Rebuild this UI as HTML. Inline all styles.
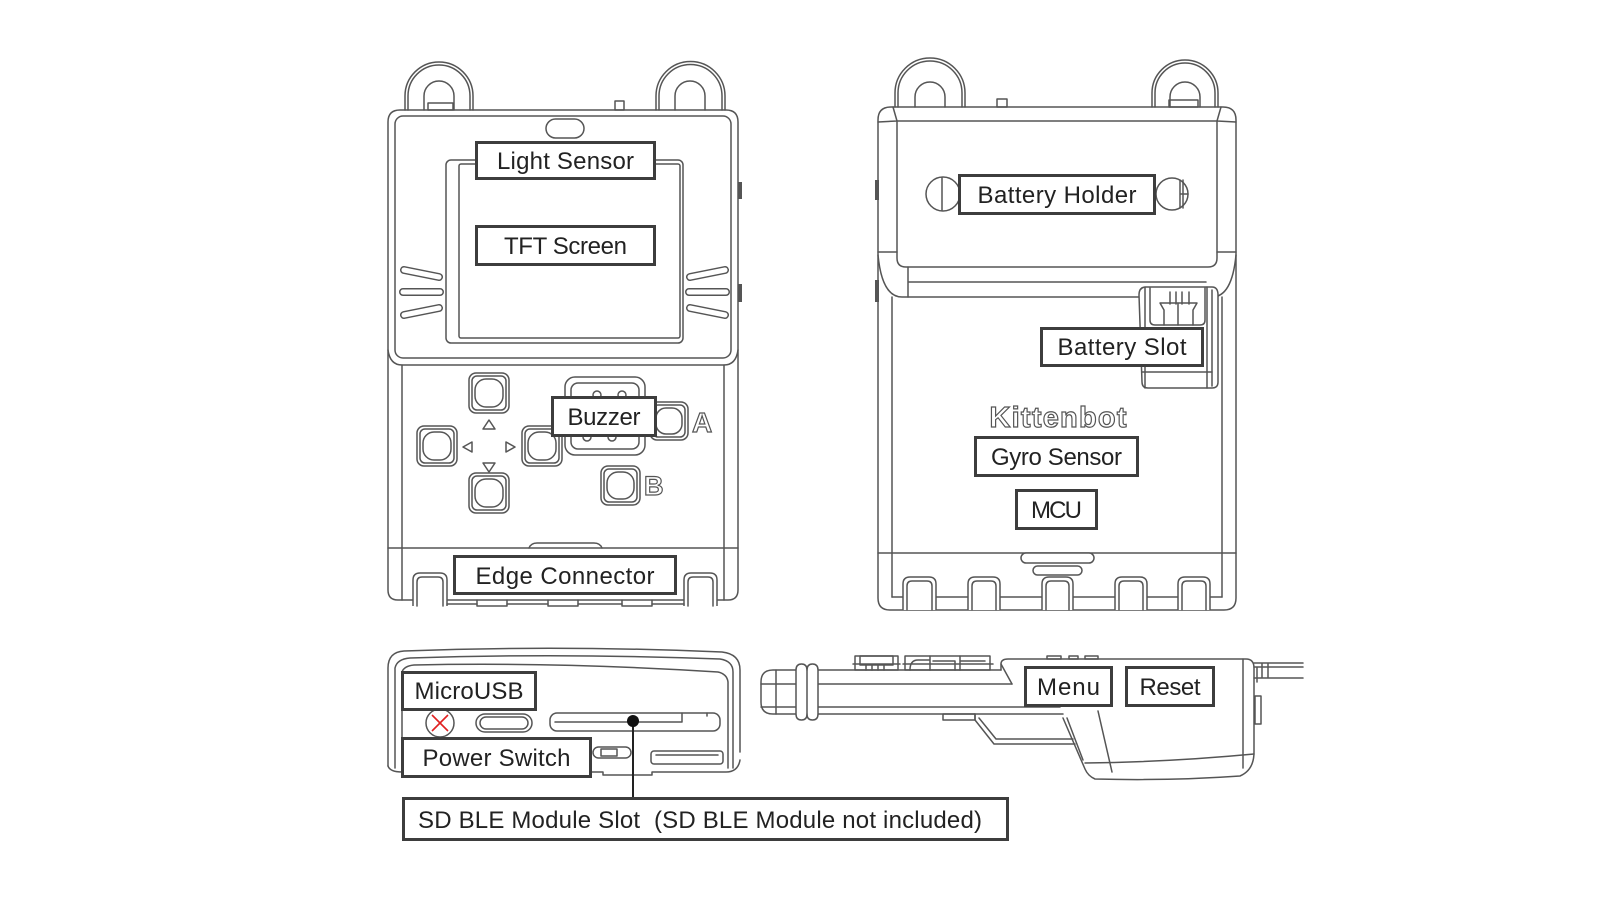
<!DOCTYPE html>
<html><head><meta charset="utf-8"><style>
html,body{margin:0;padding:0;background:#fff;}
svg{display:block}
.l{fill:none;stroke:#555;stroke-width:1.5;stroke-linejoin:round;stroke-linecap:round}
.lw{fill:#fff;stroke:#555;stroke-width:1.5;stroke-linejoin:round}
.lb{fill:#fff;stroke:#3d3d3d;stroke-width:3}
.t{font-family:"Liberation Sans",sans-serif;font-size:24px;fill:#222;text-anchor:middle}
.o{font-family:"Liberation Sans",sans-serif;font-weight:bold;fill:#fff;stroke:#555;stroke-width:1.2}
</style></head><body>
<svg width="1600" height="900" viewBox="0 0 1600 900">
<rect width="1600" height="900" fill="#fff"/>

<!-- ================= FRONT DEVICE ================= -->
<path class="l" stroke-width="2.2" d="M405,110 V96 A34,34 0 0 1 473,96 V110"/>
<path class="l" d="M408,110 V96 A31,31 0 0 1 470,96 V110"/>
<path class="l" d="M424,110 V96 A15,15 0 0 1 454,96 V110"/>
<rect class="l" x="428" y="103" width="25" height="7"/>
<path class="l" stroke-width="2.2" d="M656,110 V96 A34.5,34.5 0 0 1 725,96 V110"/>
<path class="l" d="M659,110 V96 A31.5,31.5 0 0 1 722,96 V110"/>
<path class="l" d="M675,110 V96 A15,15 0 0 1 705,96 V110"/>
<rect class="l" x="615" y="101" width="9" height="9"/>

<path class="l" d="M388,122 Q388,110 400,110 H726 Q738,110 738,122 V590 Q738,600 728,600 H398 Q388,600 388,590 Z"/>
<rect class="l" x="395" y="116" width="336" height="242" rx="8"/>
<path class="l" d="M388,350 Q390,365 402,365 H724 Q736,365 738,350"/>
<path class="l" d="M402,365 V600 M724,365 V600"/>
<path class="l" d="M388,548 H738"/>
<path class="l" d="M529,548 Q531,543 537,543 H594 Q600,543 602,548"/>
<rect x="738" y="182" width="4" height="17" fill="#555"/>
<rect x="738" y="284" width="4" height="18" fill="#555"/>
<path class="lw" d="M413,606 V580 Q413,573 420,573 H440 Q447,573 447,580 V606"/>
<path class="l" d="M417,606 V582 Q417,577 422,577 H438 Q443,577 443,582 V606"/>
<path class="lw" d="M684,606 V580 Q684,573 691,573 H710 Q717,573 717,580 V606"/>
<path class="l" d="M688,606 V582 Q688,577 693,577 H708 Q713,577 713,582 V606"/>
<path class="l" d="M477,600 V606 H507 V600 M548,600 V606 H578 V600 M622,600 V606 H652 V600"/>
<path class="l" d="M447,604 H477 M507,604 H548 M578,604 H622 M652,604 H684"/>

<rect class="l" x="546" y="119" width="38" height="19" rx="9.5"/>
<rect class="l" x="446" y="160" width="237" height="183" rx="5"/>
<rect class="l" x="459" y="164" width="221" height="174" rx="2"/>
<g stroke="#555" stroke-width="8" stroke-linecap="round" fill="none">
<path d="M404,270 L439,277 M403,292 H440 M404,315 L439,308 M690,277 L725,270 M689,292 H726 M690,308 L725,315"/>
</g>
<g stroke="#fff" stroke-width="5" stroke-linecap="round" fill="none">
<path d="M404,270 L439,277 M403,292 H440 M404,315 L439,308 M690,277 L725,270 M689,292 H726 M690,308 L725,315"/>
</g>

<g class="l">
<rect x="469" y="373" width="40" height="40" rx="7"/><rect x="472" y="376" width="34" height="34" rx="5"/><rect x="475" y="379" width="28" height="28" rx="11"/>
<rect x="417" y="426" width="40" height="40" rx="7"/><rect x="420" y="429" width="34" height="34" rx="5"/><rect x="423" y="432" width="28" height="28" rx="11"/>
<rect x="522" y="426" width="40" height="40" rx="7"/><rect x="525" y="429" width="34" height="34" rx="5"/><rect x="528" y="432" width="28" height="28" rx="11"/>
<rect x="469" y="473" width="40" height="40" rx="7"/><rect x="472" y="476" width="34" height="34" rx="5"/><rect x="475" y="479" width="28" height="28" rx="11"/>
<rect x="601" y="466" width="39" height="39" rx="7"/><rect x="604" y="469" width="33" height="33" rx="5"/><rect x="607" y="472" width="27" height="27" rx="11"/>
<rect x="650" y="402" width="38" height="38" rx="7"/><rect x="653" y="405" width="32" height="32" rx="5"/><rect x="656" y="408" width="26" height="26" rx="10"/>
<path d="M489,420 L483,429 H495 Z"/>
<path d="M463,447 L472,442 V452 Z"/>
<path d="M515,447 L506,442 V452 Z"/>
<path d="M489,472 L483,463 H495 Z"/>
</g>
<rect class="l" x="565" y="377" width="80" height="78" rx="10"/>
<rect class="l" x="571" y="383" width="68" height="66" rx="7"/>
<g class="l"><circle cx="597" cy="395" r="4"/><circle cx="622" cy="395" r="4"/><circle cx="587" cy="437" r="4"/><circle cx="612" cy="437" r="4"/></g>
<text class="o" x="692" y="432" font-size="28">A</text>
<text class="o" x="644" y="495" font-size="27">B</text>

<rect class="lb" x="476.5" y="142.5" width="178" height="36"/>
<text class="t" x="565.5" y="169" textLength="137">Light Sensor</text>
<rect class="lb" x="476.5" y="226.5" width="178" height="38"/>
<text class="t" x="565.5" y="254" textLength="123">TFT Screen</text>
<rect class="lb" x="552.5" y="397.5" width="103" height="38"/>
<text class="t" x="604" y="425" textLength="73">Buzzer</text>
<rect class="lb" x="454.5" y="556.5" width="221" height="37"/>
<text class="t" x="565" y="584" textLength="179">Edge Connector</text>

<!-- ================= BACK DEVICE ================= -->
<path class="l" stroke-width="2.2" d="M895,107 V93 A35,35 0 0 1 965,93 V107"/>
<path class="l" d="M898,107 V93 A32,32 0 0 1 962,93 V107"/>
<path class="l" d="M915,107 V97 A15,15 0 0 1 945,97 V107"/>
<path class="l" stroke-width="2.2" d="M1152,107 V93 A33,33 0 0 1 1218,93 V107"/>
<path class="l" d="M1155,107 V93 A30,30 0 0 1 1215,93 V107"/>
<path class="l" d="M1170,107 V97 A15,15 0 0 1 1200,97 V107"/>
<rect class="l" x="1169" y="100" width="29" height="7"/>
<rect class="l" x="997" y="99" width="10" height="8"/>

<path class="l" d="M878,120 Q878,107 891,107 H1223 Q1236,107 1236,120 V598 Q1236,610 1224,610 H890 Q878,610 878,598 Z"/>
<path class="l" d="M878,122 L897,121 M893,107 L897,121 M1236,122 L1217,121 M1221,107 L1217,121"/>
<path class="l" d="M897,121 H1217 M897,121 V258 Q897,267 906,267 H1208 Q1217,267 1217,258 V121"/>
<path class="l" d="M878,252 H897 M1217,252 H1236"/>
<path class="l" d="M908,267 V297 M908,282 H1206"/>
<path class="l" d="M878,255 Q882,297 902,297 H1212 Q1232,297 1236,255"/>
<path class="l" d="M892,297 V597 M1222,297 V597"/>
<path class="l" d="M878,553 H1236 M892,597 H1222"/>
<rect x="875" y="180" width="4" height="20" fill="#555"/>
<rect x="875" y="280" width="4" height="22" fill="#555"/>

<circle class="l" cx="943" cy="194" r="17"/>
<path class="l" d="M942,178 V210"/>
<circle class="l" cx="1172" cy="194" r="16"/>
<path class="l" d="M1180,180 V208 M1183,180 V208 M1180,194 H1188"/>

<path class="lw" d="M1139,295 Q1139,287 1146,287 H1212 Q1218,287 1218,295 V382 Q1218,388 1212,388 H1148 Q1142,388 1142,382 Z"/>
<path class="l" d="M1145,287 V388 M1207,287 V388 M1212,290 V386"/>
<path class="l" d="M1150,288 V320 Q1150,325 1155,325 H1200 Q1205,325 1205,320 V288"/>
<path class="l" d="M1170,292 V304 M1176,292 V304 M1182,292 V304 M1189,292 V304"/>
<path class="l" d="M1160,303 H1197 L1193,310 V325 M1160,303 L1164,310 V325 M1178,303 V325"/>
<path class="l" d="M1142,372 H1212"/>

<g>
<path class="lw" d="M903,610 V584 Q903,577 910,577 H929 Q936,577 936,584 V610"/>
<path class="l" d="M907,610 V586 Q907,581 912,581 H927 Q932,581 932,586 V610"/>
<path class="lw" d="M968,610 V584 Q968,577 975,577 H993 Q1000,577 1000,584 V610"/>
<path class="l" d="M972,610 V586 Q972,581 977,581 H991 Q996,581 996,586 V610"/>
<path class="lw" d="M1042,610 V584 Q1042,577 1049,577 H1066 Q1073,577 1073,584 V610"/>
<path class="l" d="M1046,610 V586 Q1046,581 1051,581 H1064 Q1069,581 1069,586 V610"/>
<path class="lw" d="M1115,610 V584 Q1115,577 1122,577 H1140 Q1147,577 1147,584 V610"/>
<path class="l" d="M1119,610 V586 Q1119,581 1124,581 H1138 Q1143,581 1143,586 V610"/>
<path class="lw" d="M1178,610 V584 Q1178,577 1185,577 H1203 Q1210,577 1210,584 V610"/>
<path class="l" d="M1182,610 V586 Q1182,581 1187,581 H1201 Q1206,581 1206,586 V610"/>
</g>
<rect class="lw" x="1021" y="553" width="73" height="10" rx="5"/>
<rect class="lw" x="1033" y="566" width="49" height="9" rx="4.5"/>

<text class="o" x="1058" y="427" font-size="29" text-anchor="middle" textLength="137">Kittenbot</text>

<rect class="lb" x="959.5" y="175.5" width="195" height="38"/>
<text class="t" x="1057" y="203" textLength="159">Battery Holder</text>
<rect class="lb" x="1041.5" y="328.5" width="161" height="37"/>
<text class="t" x="1122" y="355" textLength="129">Battery Slot</text>
<rect class="lb" x="975.5" y="437.5" width="162" height="38"/>
<text class="t" x="1056.5" y="465" textLength="131">Gyro Sensor</text>
<rect class="lb" x="1016.5" y="490.5" width="80" height="38"/>
<text class="t" x="1056.5" y="518" textLength="51">MCU</text>

<!-- ================= BOTTOM EDGE VIEW ================= -->
<path class="l" d="M388,766 V668 Q388,652 404,651 Q560,645 722,652 Q740,654 740,670 V752"/>
<path class="l" d="M395,768 V668 Q397,659 410,658 Q560,653 720,659 Q733,661 733,672 V768"/>
<path class="l" d="M402,772 V672 Q404,666 414,665 Q560,662 718,672 Q727,674 728,682 V768"/>
<path class="l" d="M388,766 Q390,772 402,772 H603 V775 H652 V772 H726 Q738,772 740,760"/>
<circle class="l" cx="440" cy="723" r="14"/>
<path d="M432,715 L448,731 M448,715 L432,731" stroke="#e02020" stroke-width="1.6" fill="none"/>
<rect class="l" x="476" y="714" width="56" height="18" rx="9"/>
<rect class="l" x="480" y="717" width="48" height="12" rx="6"/>
<rect class="l" x="550" y="713" width="170" height="18" rx="7"/>
<path class="l" d="M555,722 H682 V713 M707,713 V716"/>
<rect class="l" x="593" y="747" width="38" height="11" rx="5.5"/>
<rect class="l" x="601" y="749" width="16" height="7"/>
<rect class="l" x="651" y="751" width="72" height="13" rx="3"/>
<path class="l" d="M656,755 H718"/>
<path d="M633,721 V798" stroke="#222" stroke-width="2" fill="none"/>
<circle cx="633" cy="721" r="6" fill="#111"/>
<rect class="lb" x="402.5" y="672.5" width="133" height="37"/>
<text class="t" x="469" y="699" textLength="109">MicroUSB</text>
<rect class="lb" x="402.5" y="738.5" width="188" height="38"/>
<text class="t" x="496.5" y="766" textLength="148">Power Switch</text>
<rect class="lb" x="403.5" y="798.5" width="604" height="41"/>
<text class="t" x="418" y="828" style="text-anchor:start" textLength="564">SD BLE Module Slot&#160; (SD BLE Module not included)</text>

<!-- ================= SIDE VIEW ================= -->
<path class="l" d="M1001,670 H773 Q761,670 761,682 V702 Q761,714 773,714 H1063"/>
<path class="l" d="M776,670 V714 M761,684 H1012 M761,707 H1060"/>
<path class="lw" d="M796,670 Q796,664 801.5,664 Q807,664 807,670 Q807,664 812.5,664 Q818,664 818,670 V714 Q818,720 812.5,720 Q807,720 807,714 Q807,720 801.5,720 Q796,720 796,714 Z"/>
<path class="l" d="M807,670 V714"/>
<g class="l">
<rect x="855" y="656" width="43" height="14"/>
<rect x="860" y="656" width="33" height="9"/>
<path d="M853,664 H900 M866,664 V670 M872,664 V670 M878,664 V670 M884,664 V670"/>
<rect x="905" y="656" width="85" height="14"/>
<path d="M910,670 Q910,660 918,660 H930 M930,656 V670 M933,661 H955 V670 M960,656 V670 M960,661 H985 M903,664 H993"/>
</g>
<path class="l" d="M1001,670 V664 Q1001,659 1008,659 H1246 Q1254,659 1254,668 V752 Q1254,770 1240,776 Q1170,781 1095,779 Q1088,776 1085,769 L1063,718"/>
<path class="l" d="M1001,664 L1012,684"/>
<path class="l" d="M1243,659 V768"/>
<path class="l" d="M1085,763 Q1170,762 1254,754"/>
<path class="l" d="M1098,711 L1112,772"/>
<path class="l" d="M1067,718 L1083,760"/>
<g class="l">
<rect x="1047" y="656" width="14" height="3"/>
<rect x="1069" y="656" width="9" height="3"/>
<rect x="1085" y="656" width="13" height="3"/>
</g>
<path class="l" d="M975,714 V720 L994,744 H1075 M979,718 L996,739 H1073"/>
<rect class="l" x="943" y="714" width="32" height="6"/>
<path class="l" d="M1254,663 H1303 M1254,667 H1303 M1254,678 H1303 M1262,663 V678 M1268,663 V678 M1257,667 V682"/>
<rect class="l" x="1255" y="696" width="6" height="28"/>
<rect class="lb" x="1025.5" y="667.5" width="86" height="38"/>
<text class="t" x="1068.5" y="695" textLength="63">Menu</text>
<rect class="lb" x="1126.5" y="667.5" width="87" height="38"/>
<text class="t" x="1170" y="695" textLength="61">Reset</text>

</svg>
</body></html>
